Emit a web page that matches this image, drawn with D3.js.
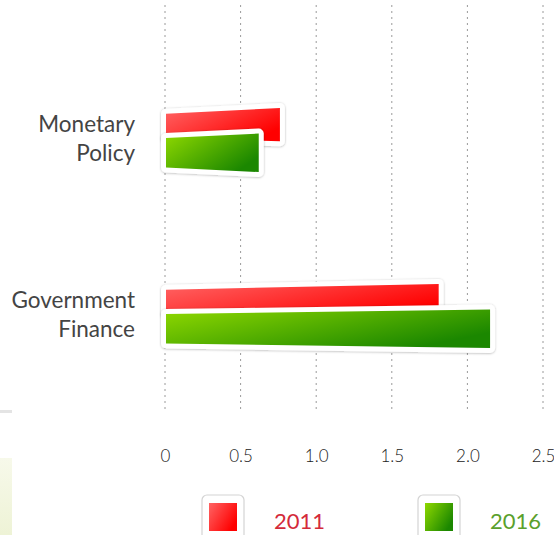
<!DOCTYPE html>
<html>
<head>
<meta charset="utf-8">
<script src="https://cdn.jsdelivr.net/npm/d3@7"></script>
<style>
  html, body { margin: 0; padding: 0; background: #fff; }
  svg { display: block; }
</style>
</head>
<body>
<svg id="chart" width="554" height="535"></svg>
<script>
// Chart data
const categories = ["Monetary Policy", "Government Finance"];
const categoryLines = [["Monetary", "Policy"], ["Government", "Finance"]];
const seriesNames = ["2011", "2016"];
const values2011 = [0.76, 1.81];
const values2016 = [0.62, 2.15];
const tickValues = [0, 0.5, 1.0, 1.5, 2.0, 2.5];
const tickLabels = ["0", "0.5", "1.0", "1.5", "2.0", "2.5"];

const W = 554, H = 535;
const FONT = "Lato, 'Open Sans', 'DejaVu Sans', sans-serif";
const svg = d3.select("#chart");
const defs = svg.append("defs");

// Scales
const x = d3.scaleLinear().domain([0, 2.5]).range([165, 543]);
const y = d3.scaleBand().domain(categories).range([52, 404])
  .paddingInner(0.636).paddingOuter(0.318);

// Series styling: gradients, legend text colour, and band geometry (fractions of band height)
const seriesStyle = {
  "2011": { from: "#ff6464", to: "#ff0000", text: "#d42a3a",
            leftTop: 0.09, leftBot: 0.47, rightTop: 0.0, rightBot: 0.52 },
  "2016": { from: "#8fd800", to: "#1b8700", text: "#5aa02c",
            leftTop: 0.47, leftBot: 0.93, rightTop: 0.40, rightBot: 1.0 }
};

// Gradients
seriesNames.forEach(s => {
  const st = seriesStyle[s];
  const g = defs.append("linearGradient").attr("id", "grad" + s)
    .attr("x1", 0).attr("y1", 0).attr("x2", 1).attr("y2", 0.6);
  g.append("stop").attr("offset", "0%").attr("stop-color", st.from);
  g.append("stop").attr("offset", "100%").attr("stop-color", st.to);
});
const shadow = defs.append("filter").attr("id", "edge")
  .attr("x", "-10%").attr("y", "-40%").attr("width", "120%").attr("height", "180%");
shadow.append("feDropShadow").attr("dx", 0).attr("dy", 0.5)
  .attr("stdDeviation", 1.3).attr("flood-color", "#000").attr("flood-opacity", 0.3);

// Left-edge background decoration
const fade = defs.append("linearGradient").attr("id", "fade")
  .attr("x1", 0).attr("y1", 0).attr("x2", 0).attr("y2", 1);
fade.append("stop").attr("offset", "0%").attr("stop-color", "#f7f9ea");
fade.append("stop").attr("offset", "100%").attr("stop-color", "#eef3d6");
svg.append("rect").attr("x", 0).attr("y", 458).attr("width", 12).attr("height", H - 458)
  .attr("fill", "url(#fade)");
svg.append("rect").attr("x", 0).attr("y", 410).attr("width", 12).attr("height", 3)
  .attr("fill", "#e4e4e4");

// Dotted vertical gridlines
svg.append("g").selectAll("line").data(tickValues).join("line")
  .attr("x1", d => x(d)).attr("x2", d => x(d))
  .attr("y1", 5).attr("y2", 410)
  .attr("stroke", "#9a9a9a").attr("stroke-width", 1)
  .attr("stroke-dasharray", "2,4");

// Tick labels along the bottom
const axis = d3.axisBottom(x).tickValues(tickValues)
  .tickFormat((d, i) => tickLabels[i]).tickSize(0).tickPadding(0);
const axisG = svg.append("g").attr("transform", "translate(0,450)").call(axis);
axisG.select(".domain").remove();
axisG.selectAll("text").attr("font-family", FONT).attr("font-size", 17)
  .attr("font-weight", 300).attr("fill", "#222");

// Bars drawn as slightly tilted quadrilaterals
function barPath(cat, v, s) {
  const st = seriesStyle[s];
  const b0 = y(cat), bh = y.bandwidth();
  const x0 = x(0) + 1, x1 = x(v);
  return `M${x0},${b0 + st.leftTop * bh} L${x1},${b0 + st.rightTop * bh} ` +
         `L${x1},${b0 + st.rightBot * bh} L${x0},${b0 + st.leftBot * bh} Z`;
}
const seriesValues = { "2011": values2011, "2016": values2016 };
seriesNames.forEach(s => {
  const g = svg.append("g");
  categories.forEach((cat, i) => {
    const d = barPath(cat, seriesValues[s][i], s);
    g.append("path").attr("d", d).attr("fill", "#fff").attr("stroke", "#fff")
      .attr("stroke-width", 10).attr("stroke-linejoin", "round")
      .attr("filter", "url(#edge)");
    g.append("path").attr("d", d).attr("fill", `url(#grad${s})`);
  });
});

// Category labels (two lines, right-aligned)
const labG = svg.append("g");
categories.forEach((cat, i) => {
  const c = y(cat) + y.bandwidth() / 2;
  const t = labG.append("text").attr("text-anchor", "end")
    .attr("font-family", FONT).attr("font-size", 22.5).attr("fill", "#444");
  categoryLines[i].forEach((line, j) => {
    t.append("tspan").attr("x", 135).attr("y", c - 8 + j * 29).text(line);
  });
});

// Legend
const legendX = [202, 418];
seriesNames.forEach((s, i) => {
  const st = seriesStyle[s];
  const g = svg.append("g").attr("transform", `translate(${legendX[i]},495)`);
  g.append("rect").attr("x", 0).attr("y", 0).attr("width", 42).attr("height", 50)
    .attr("rx", 5).attr("fill", "#fff").attr("stroke", "#d4d4d4").attr("stroke-width", 1.2);
  g.append("rect").attr("x", 7).attr("y", 8).attr("width", 28).attr("height", 28)
    .attr("fill", `url(#grad${s})`);
  g.append("text").attr("x", 72).attr("y", 34).attr("font-family", FONT)
    .attr("font-size", 22).attr("fill", st.text).text(s);
});
</script>
</body>
</html>
